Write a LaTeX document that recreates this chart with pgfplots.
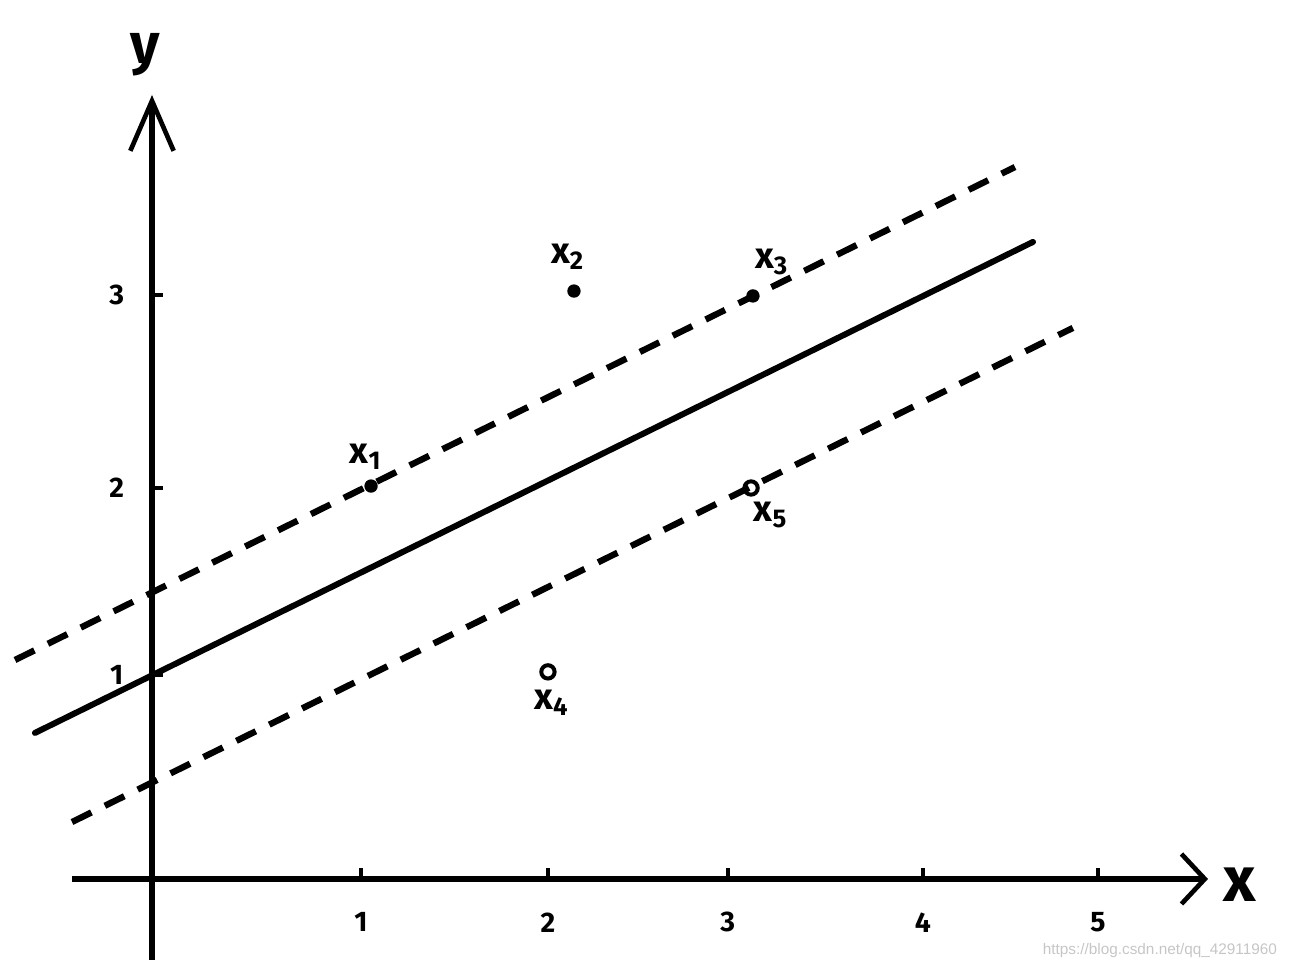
\documentclass[border=0pt]{standalone}
\usepackage{pgfplots}
\pgfplotsset{compat=1.18}
\usetikzlibrary{arrows.meta}
\usepackage{fontspec}
\setmainfont{Fira Sans}
\newfontfamily\wmfont{Liberation Sans}
\begin{document}
\begin{tikzpicture}
\begin{axis}[
  scale only axis, width=387.3pt, height=291pt,
  xmin=-0.8, xmax=5.995, ymin=-0.4667, ymax=4.5077,
  axis lines=middle, axis line style={draw=none},
  xtick={1.1,2.084,3.03,4.058,4.979}, xticklabels={1,2,3,4,5},
  ytick={1.046,2.005,2.995}, yticklabels={1,2,3},
  major tick length=3.2pt,
  tick style={line width=1.3pt, black},
  every major x tick/.append style={yshift=1.6pt},
  every major y tick/.append style={xshift=1.6pt},
  ticklabel style={font=\bfseries\fontsize{8.5}{9}\selectfont},
  xticklabel style={anchor=center, yshift=-11.4pt},
  yticklabel style={anchor=center, xshift=-9pt},
  xlabel={x}, ylabel={y},
  xlabel style={at={(axis cs:5.726,-0.031)}, anchor=center, font=\bfseries\fontsize{19}{19}\selectfont},
  ylabel style={at={(axis cs:-0.037,4.226)}, anchor=center, rotate=0, font=\bfseries\fontsize{17}{17}\selectfont},
  clip=false,
]
% axes
\addplot[line width=1.8pt, -{Straight Barb[length=7pt,width=15pt,line width=1.4pt]}] coordinates {(-0.421,0) (5.558,0)};
\addplot[line width=1.8pt, -{Straight Barb[length=15pt,width=13pt,line width=1.4pt]}] coordinates {(0,-0.415) (0,4.0205)};
% separating line and margins
\addplot[line width=1.8pt, line cap=round] coordinates {(-0.616,0.749) (4.637,3.267)};
\addplot[line width=1.9pt, dash pattern=on 6.5pt off 4.5pt] coordinates {(-0.721,1.123) (4.542,3.651)};
\addplot[line width=1.9pt, dash pattern=on 6.5pt off 4.5pt] coordinates {(-0.421,0.292) (4.847,2.826)};
% points
\addplot[only marks, mark=*, mark size=1.8pt] coordinates {(1.153,2.015) (2.221,3.015) (3.163,2.99)};
\addplot[only marks, mark=o, mark size=2pt, mark options={line width=1.2pt}] coordinates {(2.084,1.062) (3.153,2.005)};
% point labels
\node[font=\bfseries\fontsize{11}{11}\selectfont] at (axis cs:1.126,2.164) {x\textsubscript{1}};
\node[font=\bfseries\fontsize{11}{11}\selectfont] at (axis cs:2.189,3.19) {x\textsubscript{2}};
\node[font=\bfseries\fontsize{11}{11}\selectfont] at (axis cs:3.263,3.164) {x\textsubscript{3}};
\node[font=\bfseries\fontsize{11}{11}\selectfont] at (axis cs:2.105,0.903) {x\textsubscript{4}};
\node[font=\bfseries\fontsize{11}{11}\selectfont] at (axis cs:3.258,1.867) {x\textsubscript{5}};
% watermark
\node[text=gray!45, font=\wmfont\fontsize{4.6}{5}\selectfont] at (axis cs:5.305,-0.369) {https://blog.csdn.net/qq\_42911960};
\end{axis}
\end{tikzpicture}
\end{document}
